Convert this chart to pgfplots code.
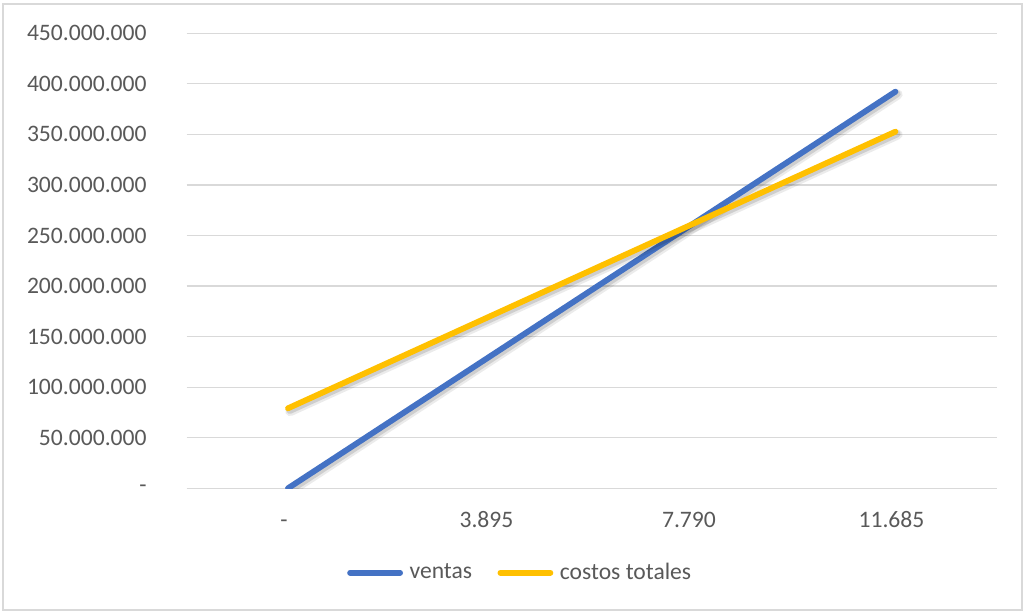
\documentclass[border=0pt]{standalone}
\usepackage{fontspec}
\setmainfont{Carlito}
\usepackage{pgfplots}
\pgfplotsset{compat=1.18}

\definecolor{ventasblue}{HTML}{4472C4}
\definecolor{costosgold}{HTML}{FFC000}
\definecolor{textgray}{HTML}{595959}
\definecolor{gridgray}{HTML}{D9D9D9}

\begin{document}
\fontsize{11.8}{14}\selectfont
\begin{tikzpicture}
  \useasboundingbox (0,0) rectangle (513pt,305.5pt);
  % chart frame
  \draw[gridgray, line width=0.6pt] (1.5pt,0.5pt) rectangle (511pt,303.5pt);
  \begin{axis}[
    at={(93.35pt,61.35pt)}, anchor=south west,
    scale only axis, width=405pt, height=227.5pt,
    xmin=-0.5, xmax=3.5, ymin=0, ymax=450000000,
    scaled y ticks=false,
    axis line style={draw=none},
    major tick length=0pt, tick style={draw=none},
    xtick={0,1,2,3},
    xticklabels={{-\hspace{6pt}},3.895,7.790,11.685},
    ytick={0,50000000,100000000,150000000,200000000,250000000,300000000,350000000,400000000,450000000},
    yticklabels={-,50.000.000,100.000.000,150.000.000,200.000.000,250.000.000,300.000.000,350.000.000,400.000.000,450.000.000},
    ymajorgrids, grid style={gridgray, line width=0.6pt},
    xticklabel style={anchor=base, inner sep=0pt, yshift=-19.5pt, xshift=-2pt, text=textgray},
    yticklabel style={anchor=east, inner sep=0pt, xshift=-19.85pt, text=textgray},
    legend columns=2,
    legend style={at={(0.4105,-0.1855)}, anchor=center, draw=none, fill=none,
      nodes={inner sep=0pt, text=textgray},
      /tikz/every odd column/.append style={column sep=3.3pt},
      /tikz/every even column/.append style={column sep=12.7pt}},
    legend image code/.code={\draw[#1, line cap=round, line width=2.9pt] (0pt,0pt) -- (25pt,0pt);},
  ]
    % ventas: soft shadow, then line
    \addplot[forget plot, draw=black, opacity=0.08, line width=5pt, line cap=round, xshift=1.1pt, yshift=-1.4pt]
      coordinates {(0,0) (1,130770000) (2,261540000) (3,392300000)};
    \addplot[forget plot, draw=black, opacity=0.12, line width=3.4pt, line cap=round, xshift=0.9pt, yshift=-1.1pt]
      coordinates {(0,0) (1,130770000) (2,261540000) (3,392300000)};
    \addplot[ventasblue, line width=2.9pt, line cap=round, line join=round]
      coordinates {(0,0) (1,130770000) (2,261540000) (3,392300000)};
    \addlegendentry{ventas}
    % costos totales: soft shadow, then line
    \addplot[forget plot, draw=black, opacity=0.08, line width=5pt, line cap=round, xshift=1.1pt, yshift=-1.4pt]
      coordinates {(0,79100000) (1,170300000) (2,261500000) (3,352700000)};
    \addplot[forget plot, draw=black, opacity=0.12, line width=3.4pt, line cap=round, xshift=0.9pt, yshift=-1.1pt]
      coordinates {(0,79100000) (1,170300000) (2,261500000) (3,352700000)};
    \addplot[costosgold, line width=2.9pt, line cap=round, line join=round]
      coordinates {(0,79100000) (1,170300000) (2,261500000) (3,352700000)};
    \addlegendentry{costos totales}
  \end{axis}
\end{tikzpicture}
\end{document}
